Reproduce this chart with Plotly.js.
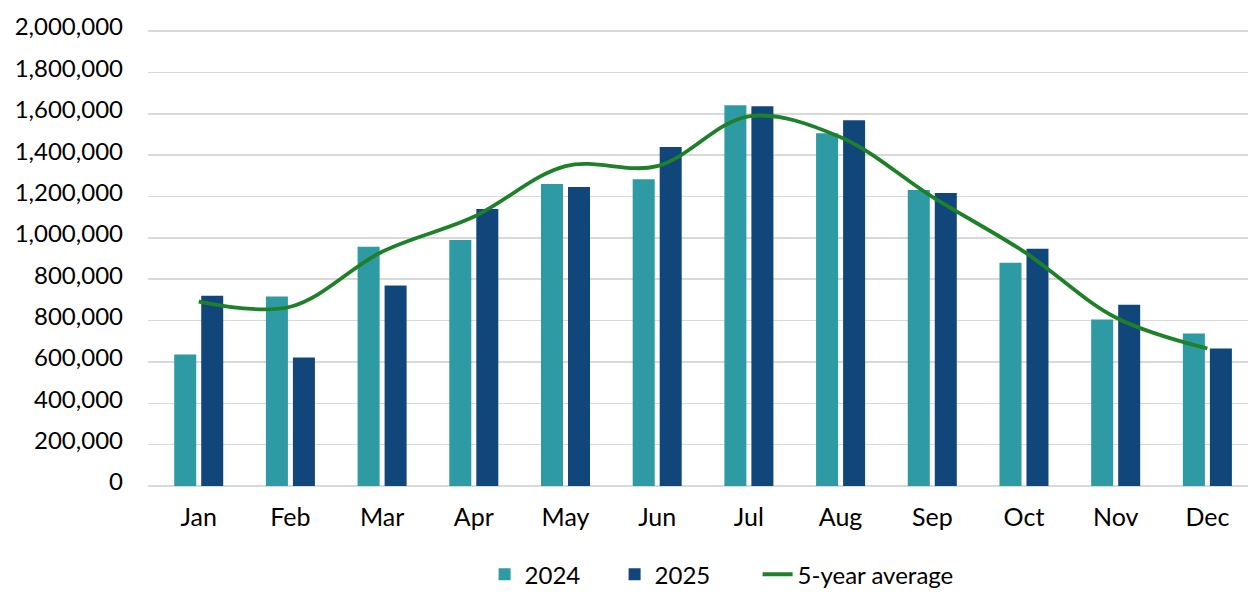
<!DOCTYPE html>
<html>
<head>
<meta charset="utf-8">
<script src="https://cdn.plot.ly/plotly-3.0.1.min.js"></script>
<style>
  html, body { margin: 0; padding: 0; background: #ffffff; }
  #chart { width: 1250px; height: 598px; }
</style>
</head>
<body>
<div id="chart"></div>
<script>
// Categories
const months = ["Jan","Feb","Mar","Apr","May","Jun","Jul","Aug","Sep","Oct","Nov","Dec"];

// Series values (read against the gridlines; gridline k = k * 200,000)
const values2024 = [636000, 916000, 1157000, 1190000, 1460000, 1484000, 1841000, 1706000, 1431000, 1080000, 805000, 737000];
const values2025 = [920000, 622000, 969000, 1340000, 1446000, 1639000, 1836000, 1769000, 1417000, 1147000, 877000, 665000];
const fiveYearAvg = [892000, 867000, 1133000, 1302000, 1547000, 1547000, 1788000, 1687000, 1398000, 1133000, 815000, 665000];

// Y tick positions and labels as printed on the chart
const yTickVals = [0, 200000, 400000, 600000, 800000, 1000000, 1200000, 1400000, 1600000, 1800000, 2000000, 2200000];
const yTickText = ["0", "200,000", "400,000", "600,000", "800,000", "800,000", "1,000,000", "1,200,000", "1,400,000", "1,600,000", "1,800,000", "2,000,000"];

const seriesNames = ["2024", "2025", "5-year average"];

const FONT = "Lato, 'Open Sans', sans-serif";

const traces = [
  {
    type: "bar",
    name: seriesNames[0],
    x: months,
    y: values2024,
    marker: { color: "#2E9AA4" },
    legendwidth: 85,
    hoverinfo: "x+y+name"
  },
  {
    type: "bar",
    name: seriesNames[1],
    x: months,
    y: values2025,
    marker: { color: "#11467B" },
    legendwidth: 98,
    hoverinfo: "x+y+name"
  },
  {
    type: "scatter",
    mode: "lines",
    name: seriesNames[2],
    x: months,
    y: fiveYearAvg,
    line: { color: "#1E8028", width: 3.8, shape: "spline", smoothing: 1 },
    legendwidth: 165,
    hoverinfo: "x+y+name"
  }
];

const layout = {
  width: 1250,
  height: 598,
  margin: { l: 148, r: 2, t: 29, b: 111 },
  paper_bgcolor: "#ffffff",
  plot_bgcolor: "#ffffff",
  font: { family: FONT, size: 24, color: "#000000" },
  barmode: "group",
  bargap: 0.411,
  bargroupgap: 0.185,
  showlegend: true,
  legend: {
    orientation: "h",
    x: 0.306,
    xanchor: "left",
    y: -0.2405,
    yanchor: "bottom",
    font: { family: FONT, size: 24, color: "#000000" },
    itemwidth: 30,
    traceorder: "normal"
  },
  xaxis: {
    type: "category",
    range: [-0.553, 11.443],
    showgrid: false,
    zeroline: false,
    showline: false,
    ticks: "",
    ticklabelstandoff: 14,
    tickfont: { family: FONT, size: 25, color: "#000000" }
  },
  yaxis: {
    range: [0, 2210000],
    tickmode: "array",
    tickvals: yTickVals,
    ticktext: yTickText,
    showgrid: true,
    gridcolor: "#d9d9d9",
    gridwidth: 1.5,
    zeroline: true,
    zerolinecolor: "#d9d9d9",
    zerolinewidth: 1.5,
    showline: false,
    ticks: "",
    ticklabelstandoff: 24,
    ticklabelshift: -4,
    tickfont: { family: FONT, size: 24, color: "#000000" }
  }
};

Plotly.newPlot("chart", traces, layout, { displayModeBar: false, staticPlot: true });
</script>
</body>
</html>
